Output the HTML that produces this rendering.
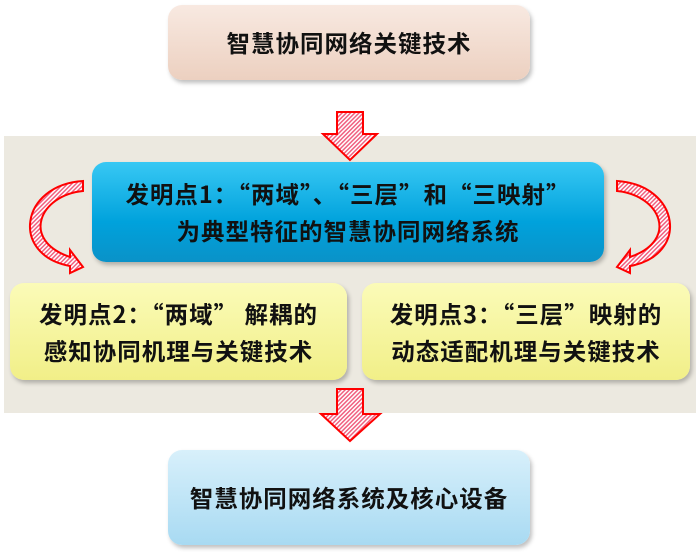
<!DOCTYPE html>
<html><head><meta charset="utf-8"><style>
body{margin:0;width:700px;height:552px;background:#fff;position:relative;overflow:hidden;font-family:"Noto Sans CJK SC","Liberation Sans",sans-serif;font-weight:bold;color:#111}
.b{position:absolute;border-radius:14px;display:flex;align-items:center;justify-content:center;text-align:center;font-size:23.5px;line-height:37px;letter-spacing:1px;box-shadow:2px 3px 4px rgba(0,0,0,.25);white-space:nowrap}
</style></head><body>
<div style="position:absolute;left:4px;top:136px;width:692px;height:277px;background:#ece9e0"></div>
<div class="b" style="left:168px;top:5px;width:362px;height:75px;background:linear-gradient(#f8e9e1,#ecd0c0)">智慧协同网络关键技术</div>
<div class="b" style="left:92px;top:162px;width:512px;height:100px;background:linear-gradient(#38c8f4,#00a2dc 60%,#0a92c8)">发明点1：“两域”、“三层”和“三映射”<br>为典型特征的智慧协同网络系统</div>
<div class="b" style="left:10px;top:283px;width:337px;height:97px;background:linear-gradient(#fbfbb8,#f1ef88)">发明点2：“两域” 解耦的<br>感知协同机理与关键技术</div>
<div class="b" style="left:362px;top:283px;width:328px;height:97px;background:linear-gradient(#fbfbb8,#f1ef88)">发明点3：“三层”映射的<br>动态适配机理与关键技术</div>
<div class="b" style="left:168px;top:450px;width:362px;height:95px;background:linear-gradient(#d8f0fb,#a8daf2)">智慧协同网络系统及核心设备</div>
<svg width="700" height="552" style="position:absolute;left:0;top:0">
<defs><pattern id="h" width="3" height="3" patternUnits="userSpaceOnUse" patternTransform="rotate(45)"><rect width="3" height="3" fill="#fff"/><rect width="1.5" height="3" fill="#f06080"/></pattern></defs>
<g fill="url(#h)" stroke="#f00" stroke-width="2">
<polygon points="337,112 363,112 363,134 377,134 350,160 323,134 337,134"/>
<polygon points="337,389 363,389 363,414 380,414 350,441 321,414 337,414"/>
<path d="M83,191 C40,195 20,240 70,257 L70,250 L83,267 L70,273 L70,266 C10,255 20,185 83,181 Z"/>
<path d="M617,191 C660,195 680,240 630,257 L630,250 L617,267 L630,273 L630,266 C690,255 680,185 617,181 Z"/>
</g>
</svg>
</body></html>
